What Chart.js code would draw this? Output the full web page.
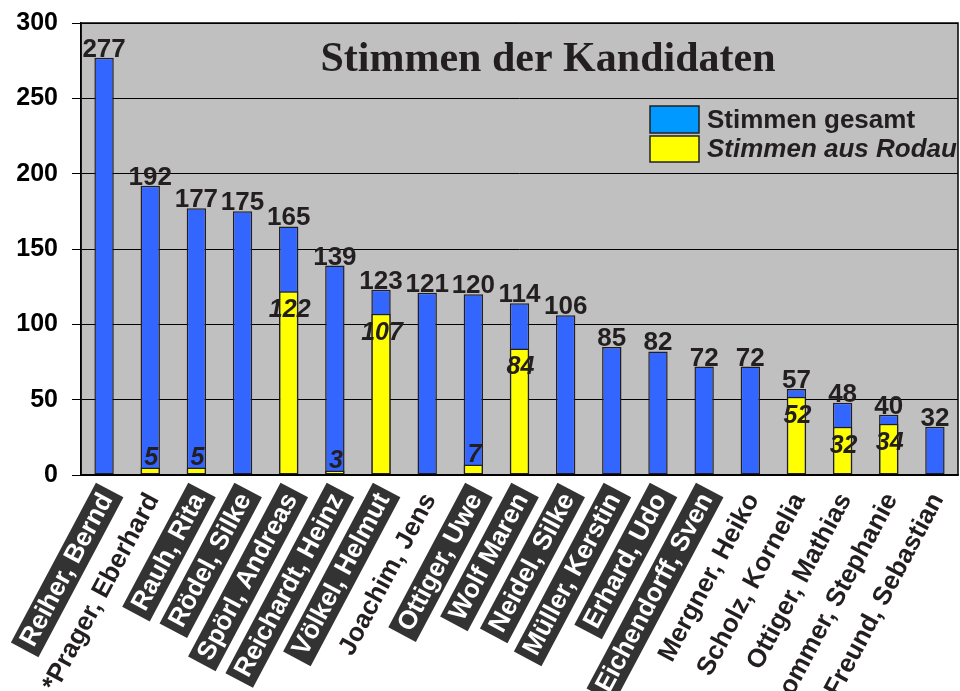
<!DOCTYPE html>
<html>
<head>
<meta charset="utf-8">
<title>Stimmen der Kandidaten</title>
<script src="https://cdn.jsdelivr.net/npm/chart.js@4"></script>
<style>
  body { margin: 0; background: #fff; overflow: hidden; }
  #wrap { width: 960px; height: 691px; }
</style>
</head>
<body>
<div id="wrap"><canvas id="myChart" width="960" height="691"></canvas></div>
<script>
// candidates, in the order of the chart
const candidates = ['Reiher, Bernd', '*Prager, Eberhard', 'Rauh, Rita', 'Rödel, Silke', 'Spörl, Andreas',
  'Reichardt, Heinz', 'Völkel, Helmut', 'Joachim, Jens', 'Ottiger, Uwe', 'Wolf Maren', 'Neidel, Silke',
  'Müller, Kerstin', 'Erhard, Udo', 'Eichendorff, Sven', 'Mergner, Heiko', 'Scholz, Kornelia',
  'Ottiger, Mathias', 'Sommer, Stephanie', 'Freund, Sebastian'];
const votesTotal = [277, 192, 177, 175, 165, 139, 123, 121, 120, 114, 106, 85, 82, 72, 72, 57, 48, 40, 32];
const votesRodau = [null, 5, 5, null, 122, 3, 107, null, 7, 84, 0, null, 0, null, null, 52, 32, 34, null];
// names drawn white on a dark box
const elected = [true, false, true, true, true, true, true, false, true, true, true, true, true, true,
  false, false, false, false, false];
const yTickValues = [0, 50, 100, 150, 200, 250, 300];

const SANS = '"Liberation Sans", Arial, sans-serif';
const TEXT = '#231f20';

const plotFrame = {
  id: 'plotFrame',
  beforeDraw(chart) {
    const ctx = chart.ctx;
    const a = chart.chartArea;
    ctx.save();
    ctx.fillStyle = '#c0c0c0';
    ctx.fillRect(a.left, a.top, a.right - a.left, a.bottom - a.top);
    ctx.restore();
  },
  afterDraw(chart) {
    const ctx = chart.ctx;
    const a = chart.chartArea;
    ctx.save();
    ctx.strokeStyle = '#000';
    ctx.lineWidth = 1.5;
    ctx.strokeRect(a.left, a.top, a.right - a.left, a.bottom - a.top);

    // title
    ctx.fillStyle = TEXT;
    ctx.font = 'bold 42px "Liberation Serif", "Times New Roman", serif';
    ctx.textAlign = 'center';
    ctx.textBaseline = 'alphabetic';
    ctx.fillText('Stimmen der Kandidaten', 548, 71);

    // legend
    const lx = 650;
    ctx.lineWidth = 1.5;
    ctx.strokeStyle = TEXT;
    ctx.fillStyle = '#0099ff';
    ctx.fillRect(lx, 106, 49, 27);
    ctx.strokeRect(lx, 106, 49, 27);
    ctx.fillStyle = '#ffff00';
    ctx.fillRect(lx, 136, 49, 26);
    ctx.strokeRect(lx, 136, 49, 26);
    ctx.fillStyle = TEXT;
    ctx.textAlign = 'left';
    ctx.font = 'bold 26px ' + SANS;
    ctx.fillText(chart.data.datasets[0].label, 707, 128);
    ctx.font = 'italic bold 26px ' + SANS;
    ctx.fillText(chart.data.datasets[1].label, 707, 157);
    ctx.restore();
  }
};

const valueLabels = {
  id: 'valueLabels',
  afterDatasetsDraw(chart) {
    const ctx = chart.ctx;
    ctx.save();
    ctx.fillStyle = TEXT;
    ctx.textAlign = 'center';
    ctx.textBaseline = 'alphabetic';

    const total = chart.getDatasetMeta(0);
    ctx.font = 'bold 26px ' + SANS;
    total.data.forEach(function(bar, i) {
      ctx.fillText(votesTotal[i], bar.x, bar.y - 1);
    });

    const rodau = chart.getDatasetMeta(1);
    ctx.font = 'italic bold 25px ' + SANS;
    rodau.data.forEach(function(bar, i) {
      const v = votesRodau[i];
      if (!v) return;
      const y = v < 20 ? bar.y - 2 : bar.y + 26;
      ctx.fillText(v, bar.x + 1, y);
    });
    ctx.restore();
  }
};

const ctx = document.getElementById('myChart').getContext('2d');
// eslint-disable-next-line no-undef
const chart = new Chart(ctx, {
  type: 'bar',
  data: {
    labels: candidates,
    datasets: [{
      label: 'Stimmen gesamt',
      data: votesTotal,
      backgroundColor: '#3366ff',
      borderColor: TEXT,
      borderWidth: 1.5,
      borderSkipped: false,
      grouped: false,
      order: 2,
    },
    {
      label: 'Stimmen aus Rodau',
      data: votesRodau,
      backgroundColor: '#ffff00',
      borderColor: TEXT,
      borderWidth: 1.5,
      borderSkipped: false,
      grouped: false,
      order: 1,
    }]
  },
  options: {
    responsive: false,
    animation: false,
    devicePixelRatio: 1,
    layout: { padding: { top: 23, right: 2, left: 0, bottom: 0 } },
    categoryPercentage: 1,
    barPercentage: 0.42,
    plugins: {
      legend: { display: false },
      tooltip: { enabled: false },
      title: { display: false }
    },
    scales: {
      x: {
        grid: { display: false },
        border: { display: true, color: '#000', width: 1.5 },
        afterFit: function(scale) {
          scale.height = 216;
          scale.paddingLeft = 0;
          scale.paddingRight = 0;
        },
        ticks: {
          autoSkip: false,
          minRotation: 62,
          maxRotation: 62,
          padding: 5,
          labelOffset: -11,
          font: { family: SANS, size: 26, weight: 'bold' },
          color: function(c) { return elected[c.index] ? '#ffffff' : TEXT; },
          showLabelBackdrop: true,
          backdropColor: function(c) { return elected[c.index] ? '#333333' : 'rgba(0,0,0,0)'; },
          backdropPadding: { left: 6, right: 6, top: 0, bottom: 0 }
        }
      },
      y: {
        min: 0,
        max: 300,
        afterFit: function(scale) {
          scale.width = 81;
          scale.paddingTop = 0;
          scale.paddingBottom = 0;
        },
        afterBuildTicks: function(scale) {
          scale.ticks = yTickValues.map(function(v) { return { value: v }; });
        },
        grid: { color: '#000', lineWidth: 1, tickLength: 9 },
        border: { display: true, color: '#000', width: 1.5 },
        ticks: {
          padding: 14,
          color: '#000',
          font: { family: SANS, size: 25, weight: 'bold' }
        }
      }
    }
  },
  plugins: [plotFrame, valueLabels]
});
</script>
</body>
</html>
